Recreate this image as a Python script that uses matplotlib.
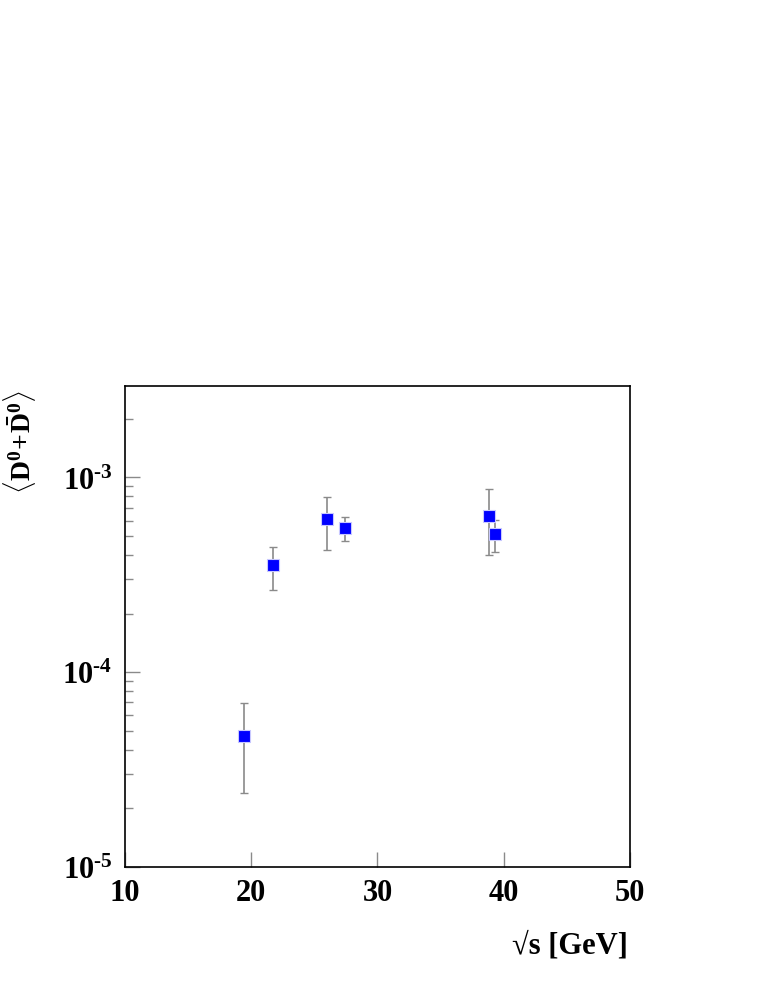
import numpy as np
import matplotlib
matplotlib.use('Agg')
import matplotlib.pyplot as plt
from matplotlib.ticker import LogLocator, FixedLocator, NullLocator, NullFormatter

plt.rcParams['font.family'] = ['Liberation Serif', 'DejaVu Serif']
plt.rcParams['font.weight'] = 'bold'
plt.rcParams['mathtext.fontset'] = 'custom'
plt.rcParams['mathtext.rm'] = 'Liberation Serif:bold'
plt.rcParams['mathtext.bf'] = 'Liberation Serif:bold'
plt.rcParams['mathtext.it'] = 'Liberation Serif:bold'

#%% data
sqrt_s   = [19.4, 21.7, 26.0, 27.4, 38.8, 39.3]
yield_d0 = [4.68e-5, 3.55e-4, 6.10e-4, 5.50e-4, 6.38e-4, 5.12e-4]
err_up   = [6.93e-5, 4.42e-4, 7.96e-4, 6.28e-4, 8.75e-4, 6.04e-4]
err_lo   = [2.39e-5, 2.65e-4, 4.23e-4, 4.73e-4, 4.02e-4, 4.14e-4]

x_ticks = [10, 20, 30, 40, 50]
y_ticks = [1e-5, 1e-4, 1e-3]
y_tick_labels = [r'$10^{\text{-5}}$', r'$10^{\text{-4}}$', r'$10^{\text{-3}}$']

#%% figure
fig = plt.figure(figsize=(7.63, 9.87), dpi=100)
ax = fig.add_axes([0.1638, 0.1206, 0.6619, 0.4873])

y = np.array(yield_d0)
yerr = [y - np.array(err_lo), np.array(err_up) - y]
ax.errorbar(sqrt_s, y, yerr=yerr, fmt='none', ecolor='#8a8a8a',
            elinewidth=1.2, capsize=2.6, capthick=1.0, zorder=2)
ax.plot(sqrt_s, y, 's', color='#0000ff', markersize=9,
        markeredgecolor='#c8c8ff', markeredgewidth=0.8, zorder=3)

ax.set_yscale('log')
ax.set_xlim(10, 50)
ax.set_ylim(1e-5, 2.95e-3)

ax.xaxis.set_major_locator(FixedLocator(x_ticks))
ax.xaxis.set_minor_locator(NullLocator())
ax.set_xticklabels([str(v) for v in x_ticks])
ax.yaxis.set_major_locator(FixedLocator(y_ticks))
ax.set_yticklabels(y_tick_labels)
ax.yaxis.set_minor_locator(LogLocator(base=10, subs=np.arange(2, 10)))
ax.yaxis.set_minor_formatter(NullFormatter())

ax.tick_params(axis='both', which='major', direction='in', length=11,
               width=1.0, color='#8a8a8a', labelsize=22, pad=8)
ax.tick_params(axis='y', which='minor', direction='in', length=6,
               width=1.0, color='#8a8a8a')
ax.tick_params(axis='y', which='major', pad=9)
for sp in ax.spines.values():
    sp.set_linewidth(1.2)
    sp.set_color('black')

fig.text(0.823, 0.042, '\u221as [GeV]', ha='right', va='center',
         fontsize=22, fontweight='bold')
fig.text(0.026, 0.552,
         r'$\langle\mathbf{D}^{0}\!+\!\bar{\mathbf{D}}^{0}\rangle$',
         rotation=90, ha='center', va='center', fontsize=20)

fig.savefig('out.png', dpi=100)
